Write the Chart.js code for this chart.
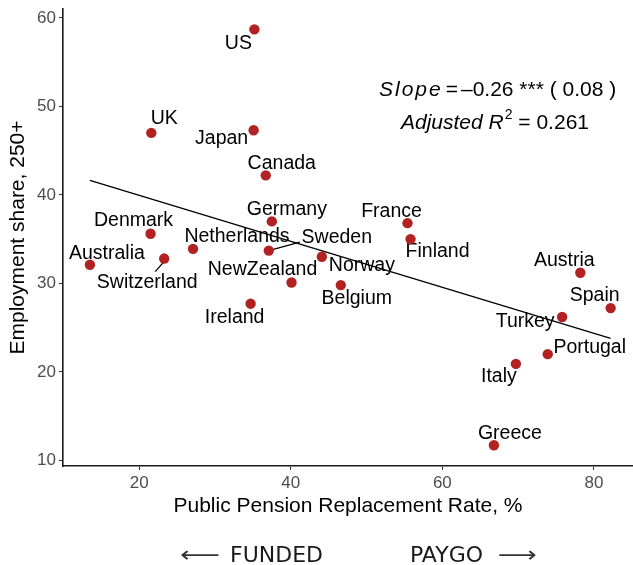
<!DOCTYPE html>
<html>
<head>
<meta charset="utf-8">
<script src="https://cdn.jsdelivr.net/npm/chart.js@4/dist/chart.umd.min.js"></script>
<style>
  html, body { margin: 0; padding: 0; background: #ffffff; overflow: hidden; }
  #wrap { width: 633px; height: 565px; overflow: hidden; }
  #chart { display: block; }
</style>
</head>
<body>
<div id="wrap"><canvas id="chart" width="633" height="565"></canvas></div>
<script>
// Countries and their values: public pension replacement rate (%) and employment share of firms with 250+ employees
const countries = ['US', 'UK', 'Japan', 'Canada', 'Germany', 'Denmark', 'Netherlands', 'Sweden',
  'Norway', 'NewZealand', 'Australia', 'Switzerland', 'Ireland', 'Belgium', 'France', 'Finland',
  'Austria', 'Spain', 'Turkey', 'Portugal', 'Italy', 'Greece'];
const replacementRate = [35.2, 21.6, 35.1, 36.7, 37.5, 21.5, 27.1, 37.1,
  44.1, 40.1, 13.5, 23.3, 34.7, 46.6, 55.4, 55.8,
  78.2, 82.2, 75.8, 73.9, 69.7, 66.8];
const employmentShare = [58.7, 47.0, 47.3, 42.2, 37.0, 35.6, 33.9, 33.7,
  33.0, 30.1, 32.1, 32.8, 27.7, 29.8, 36.8, 35.0,
  31.2, 27.2, 26.2, 22.0, 20.9, 11.7];

// Linear fit reported in the annotation
const fitSlope = -0.26;
const fitIntercept = 45.15;
const fitSlopeSE = 0.08;
const adjR2 = 0.261;

// Axis ticks
const xTicks = [20, 40, 60, 80];
const yTicks = [10, 20, 30, 40, 50, 60];

// Label placement relative to each point (pixels), same order as countries
const labelOffsets = [
  [-16, 14], [13, -14], [-32, 8], [16, -12], [15, -12], [-17, -13], [44, -12], [68, -13],
  [40, 9], [-29, -13], [17, -11], [-17, 24], [-16, 14], [16, 14], [-16, -12], [27, 13],
  [-16, -12], [-16, -12], [-37, 5], [42, -7], [-17, 13], [16, -12]
];
// Short connector segments for labels set apart from their point
const leaderLines = { 'Sweden': [[0, 0], [31, -8.5]], 'Switzerland': [[-1, 4], [-9, 13]] };

const fitXs = [Math.min(...replacementRate), Math.max(...replacementRate)];
const fitPoints = fitXs.map(x => ({ x: x, y: fitIntercept + fitSlope * x }));
const points = countries.map((c, i) => ({ x: replacementRate[i], y: employmentShare[i] }));

const SANS = '"Liberation Sans", Arial, Helvetica, sans-serif';

const decorations = {
  id: 'decorations',
  beforeDatasetsDraw(chart) {
    const ctx = chart.ctx;
    const meta = chart.getDatasetMeta(0);
    ctx.save();
    // connectors
    ctx.strokeStyle = '#000';
    ctx.lineWidth = 1.3;
    countries.forEach((c, i) => {
      const seg = leaderLines[c];
      if (!seg) return;
      const p = meta.data[i];
      ctx.beginPath();
      ctx.moveTo(p.x + seg[0][0], p.y + seg[0][1]);
      ctx.lineTo(p.x + seg[1][0], p.y + seg[1][1]);
      ctx.stroke();
    });
    // country labels
    ctx.fillStyle = '#000';
    ctx.font = '19.5px ' + SANS;
    ctx.textAlign = 'center';
    ctx.textBaseline = 'middle';
    countries.forEach((c, i) => {
      const p = meta.data[i];
      ctx.fillText(c, p.x + labelOffsets[i][0], p.y + labelOffsets[i][1]);
    });
    ctx.restore();
  },
  afterDraw(chart) {
    const ctx = chart.ctx;
    const area = chart.chartArea;
    ctx.save();
    ctx.fillStyle = '#000';
    ctx.textBaseline = 'alphabetic';
    ctx.textAlign = 'left';

    // fit annotation, line 1: italic "Slope", then the estimate
    let x = 379;
    ctx.font = 'italic 21px ' + SANS;
    ctx.letterSpacing = '2px';
    ctx.fillText('Slope', x, 95.5);
    x += ctx.measureText('Slope').width + 3;
    ctx.letterSpacing = '0px';
    ctx.font = '21px ' + SANS;
    ctx.fillText('=', x, 95.5);
    x += ctx.measureText('=').width + 3;
    ctx.fillText('\u2013' + Math.abs(fitSlope).toFixed(2) + ' *** ( ' + fitSlopeSE.toFixed(2) + ' )', x, 95.5);

    // fit annotation, line 2
    x = 401;
    ctx.font = 'italic 21px ' + SANS;
    ctx.fillText('Adjusted R', x, 128.5);
    x += ctx.measureText('Adjusted R').width + 1;
    ctx.font = '14px ' + SANS;
    ctx.fillText('2', x, 119);
    x += ctx.measureText('2').width;
    ctx.font = '21px ' + SANS;
    ctx.fillText(' = ' + adjR2.toFixed(3), x, 128.5);

    // axis titles
    ctx.textAlign = 'center';
    ctx.font = '21px ' + SANS;
    ctx.fillText('Public Pension Replacement Rate, %', (area.left + area.right) / 2, 511.5);
    ctx.save();
    ctx.translate(23.5, (area.top + area.bottom) / 2);
    ctx.rotate(-Math.PI / 2);
    ctx.fillText('Employment share, 250+', 0, 0);
    ctx.restore();

    // direction captions below the x axis
    ctx.fillStyle = '#1a1a1a';
    ctx.textAlign = 'left';
    ctx.font = '22px "DejaVu Sans", sans-serif';
    ctx.fillText('FUNDED', 230, 562);
    ctx.fillText('PAYGO', 410, 562);
    const drawArrow = (glyph, x0, x1) => {
      const w = ctx.measureText(glyph).width;
      ctx.save();
      ctx.translate(x0, 562);
      ctx.scale((x1 - x0) / w, 1);
      ctx.fillStyle = '#333333';
      ctx.fillText(glyph, 0, 0);
      ctx.restore();
    };
    drawArrow('\u27F5', 180, 220);
    drawArrow('\u27F6', 498, 537);

    ctx.restore();
  }
};

new Chart(document.getElementById('chart'), {
  data: {
    datasets: [
      {
        type: 'scatter',
        data: points,
        pointRadius: 5.2,
        pointHoverRadius: 5.2,
        backgroundColor: '#B22222',
        borderWidth: 0,
        order: 1
      },
      {
        type: 'line',
        data: fitPoints,
        borderColor: '#000000',
        borderWidth: 1.4,
        pointRadius: 0,
        fill: false,
        tension: 0,
        order: 0
      }
    ]
  },
  options: {
    responsive: false,
    animation: false,
    devicePixelRatio: 1,
    layout: { autoPadding: false, padding: { top: 9, right: 0, left: 0, bottom: 0 } },
    plugins: { legend: { display: false }, tooltip: { enabled: false } },
    scales: {
      x: {
        type: 'linear',
        min: 9.95,
        max: 85.15,
        afterBuildTicks(scale) { scale.ticks = xTicks.map(v => ({ value: v })); },
        afterFit(scale) { scale.height = 99; scale.paddingLeft = 0; scale.paddingRight = 0; },
        grid: { drawOnChartArea: false, drawTicks: true, tickLength: 4, color: '#333333', lineWidth: 1 },
        border: { display: true, color: '#1a1a1a', width: 1.6 },
        ticks: { color: '#4d4d4d', font: { family: SANS, size: 17 }, padding: 3 }
      },
      y: {
        type: 'linear',
        min: 9.36,
        max: 61.0,
        afterBuildTicks(scale) { scale.ticks = yTicks.map(v => ({ value: v })); },
        afterFit(scale) { scale.width = 63; scale.paddingTop = 0; scale.paddingBottom = 0; },
        grid: { drawOnChartArea: false, drawTicks: true, tickLength: 4, color: '#333333', lineWidth: 1 },
        border: { display: true, color: '#1a1a1a', width: 1.6 },
        ticks: { color: '#4d4d4d', font: { family: SANS, size: 17 }, padding: 3 }
      }
    }
  },
  plugins: [decorations]
});
</script>
</body>
</html>
